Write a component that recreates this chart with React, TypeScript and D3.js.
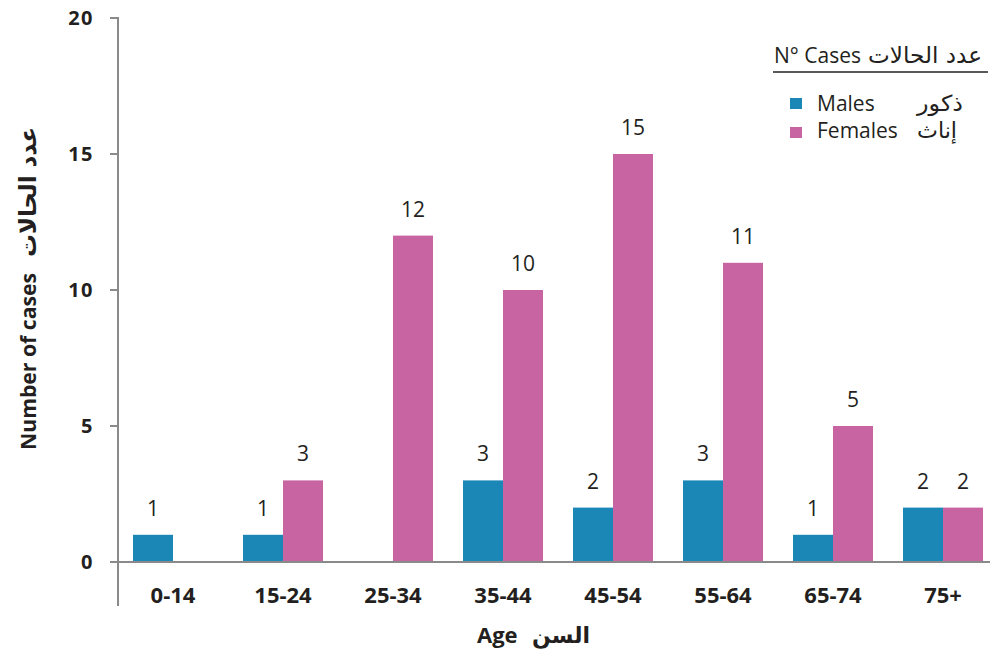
import React from "react";
import * as d3 from "d3";

const categories = ["0-14", "15-24", "25-34", "35-44", "45-54", "55-64", "65-74", "75+"];
const males = [1, 1, 0, 3, 2, 3, 1, 2];
const females = [0, 3, 12, 10, 15, 11, 5, 2];
const yTicks = [0, 5, 10, 15, 20];
const seriesKeys = ["Males", "Females"];
const seriesArabic = ["ذكور", "إناث"];
const colors = ["#1a87b6", "#c964a2"];

const W = 992;
const H = 653;
const FONT = "'Open Sans', 'DejaVu Sans', sans-serif";
const AR = "'DejaVu Sans', sans-serif";

export default function App() {
  const x = d3.scaleBand<string>().domain(categories).range([118, 998]).paddingInner(0).paddingOuter(0);
  const y = d3.scaleLinear().domain([0, 20]).range([562, 18]);
  const barW = 40;
  const series = [males, females];

  return (
    <svg width={W} height={H} style={{ position: "absolute", left: 0, top: 0 }} fontFamily={FONT}>
      <rect width={W} height={H} fill="#fff" />
      {categories.map((c, i) => {
        const cx = (x(c) as number) + x.bandwidth() / 2;
        return (
          <g key={c}>
            {series.map((s, k) => {
              const v = s[i];
              if (!v) return null;
              const bx = cx - barW + k * barW;
              return (
                <g key={k}>
                  <rect x={bx} y={y(v)} width={barW} height={y(0) - y(v)} fill={colors[k]} />
                  <text x={bx + barW / 2} y={y(v) - 19} textAnchor="middle" fontSize={21} fill="#231f20">
                    {v}
                  </text>
                </g>
              );
            })}
            <text x={cx} y={603} textAnchor="middle" fontSize={22} fontWeight="bold" fill="#231f20">
              {c}
            </text>
          </g>
        );
      })}
      <line x1={118} x2={118} y1={17} y2={606} stroke="#8a8a8a" strokeWidth={2} />
      <line x1={110} x2={990} y1={562} y2={562} stroke="#8a8a8a" strokeWidth={2} />
      {yTicks.map((t) => (
        <g key={t}>
          <line x1={110} x2={118} y1={y(t)} y2={y(t)} stroke="#8a8a8a" strokeWidth={2} />
          <text x={94} y={y(t) + 7} textAnchor="end" fontSize={20} fontWeight="bold" letterSpacing={1.5} fill="#231f20">
            {t}
          </text>
        </g>
      ))}
      {/* x axis title */}
      <text x={477} y={643} fontSize={22} fontWeight="bold" fill="#231f20">Age</text>
      <text x={532} y={643} fontSize={22} fontWeight="bold" fontFamily={AR} fill="#231f20" textLength={58} lengthAdjust="spacingAndGlyphs">السن</text>
      {/* y axis title */}
      <g transform="translate(36,450) rotate(-90)">
        <text x={0} y={0} fontSize={22} fontWeight="bold" fill="#231f20" textLength={177} lengthAdjust="spacingAndGlyphs">Number of cases</text>
        <text x={193} y={0} fontSize={24} fontWeight="bold" fontFamily={AR} fill="#231f20" textLength={130} lengthAdjust="spacingAndGlyphs">عدد الحالات</text>
      </g>
      {/* legend */}
      <text x={774} y={63} fontSize={21} fill="#231f20">N° Cases</text>
      <text x={868} y={63} fontSize={23} fontFamily={AR} fill="#231f20" textLength={114} lengthAdjust="spacingAndGlyphs">عدد الحالات</text>
      <line x1={773} x2={988} y1={72} y2={72} stroke="#231f20" strokeWidth={1.3} />
      {seriesKeys.map((k, i) => (
        <g key={k}>
          <rect x={790} y={98 + i * 29} width={12} height={11} fill={colors[i]} />
          <text x={817} y={111 + i * 27} fontSize={21} fill="#231f20">{k}</text>
          <text x={917} y={111 + i * 27} fontSize={22} fontFamily={AR} fill="#231f20" textLength={i === 0 ? 46 : 40} lengthAdjust="spacingAndGlyphs">{seriesArabic[i]}</text>
        </g>
      ))}
    </svg>
  );
}
